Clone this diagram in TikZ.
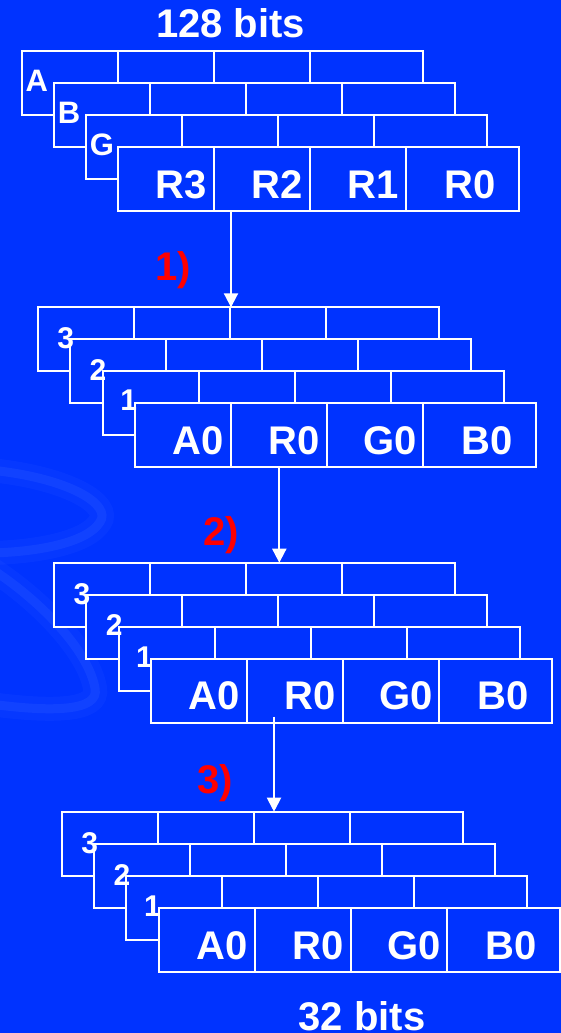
\documentclass[tikz,border=0pt]{standalone}
\usepackage{fontspec}
\setmainfont{Liberation Sans}
\usetikzlibrary{arrows.meta}
\definecolor{bg}{RGB}{0,51,255}
\definecolor{swirlc}{RGB}{110,150,255}
\definecolor{redlbl}{RGB}{255,0,0}
\newcommand\drawlayer[3]{%
  \node[layerbox] (#1) at (#2,#3) {};
  \draw[divider] (#1.north west) ++(96,0) -- ++(0,64)
                 (#1.north west) ++(192,0) -- ++(0,64)
                 (#1.north west) ++(288,0) -- ++(0,64);
}
\newcommand\cells[5]{% front layer name, four texts
  \path (#1.north west) ++(63,37.5) node[big] (#1t1) {#2};
  \path (#1.north west) ++(159,37.5) node[big] (#1t2) {#3};
  \path (#1.north west) ++(255,37.5) node[big] (#1t3) {#4};
  \path (#1.north west) ++(352,37.5) node[big] (#1t4) {#5};
}
\begin{document}
\begin{tikzpicture}[x=1pt,y=-1pt,
  layerbox/.style={draw=white,fill=bg,line width=2pt,minimum width=401pt,minimum height=64pt,inner sep=0pt,outer sep=0pt,anchor=north west},
  divider/.style={draw=white,line width=2pt},
  big/.style={text=white,font=\bfseries\fontsize{40}{40}\selectfont,inner sep=0pt},
  small/.style={text=white,font=\bfseries\fontsize{30}{30}\selectfont,inner sep=0pt},
  letter/.style={text=white,font=\bfseries\fontsize{31}{31}\selectfont,inner sep=0pt},
  steplbl/.style={text=redlbl,font=\bfseries\fontsize{40}{40}\selectfont,inner sep=0pt,anchor=base},
  flow/.style={draw=white,line width=2pt,-{Triangle[length=14pt,width=14pt]}},
  swirlline/.style={draw=swirlc,line cap=round}
]
\useasboundingbox (0,0) rectangle (561,1033);
\fill[bg] (0,0) rectangle (561,1033);
% faint background swirl
\draw[swirlline,line width=24pt,opacity=0.06] (-10,470) .. controls (70,478) and (112,505) .. (100,522) .. controls (88,542) and (40,552) .. (-10,553);
\draw[swirlline,line width=9pt,opacity=0.11] (-10,470) .. controls (70,478) and (112,505) .. (100,522) .. controls (88,542) and (40,552) .. (-10,553);
\draw[swirlline,line width=24pt,opacity=0.06] (-10,568) .. controls (40,600) and (88,650) .. (95,688) .. controls (100,712) and (50,712) .. (-10,704);
\draw[swirlline,line width=9pt,opacity=0.11] (-10,568) .. controls (40,600) and (88,650) .. (95,688) .. controls (100,712) and (50,712) .. (-10,704);

% title
\node[big] (top) at (230.5,22.8) {128 bits};

% group 1
\drawlayer{g1a}{22}{50.7}
\drawlayer{g1b}{54.3}{82.7}
\drawlayer{g1g}{86.3}{114.7}
\drawlayer{g1f}{118.3}{147.3}
\cells{g1f}{R3}{R2}{R1}{R0}
\path (g1a.north west) ++(14.7,30.3) node[letter] (la) {A};
\path (g1b.north west) ++(14.7,30.3) node[letter] (lb) {B};
\path (g1g.north west) ++(15.7,30.6) node[letter] (lg) {G};

% group 2
\drawlayer{g2c}{37.7}{307.3}
\drawlayer{g2b}{70}{339.3}
\drawlayer{g2a}{102.7}{371.3}
\drawlayer{g2f}{135.4}{403.3}
\cells{g2f}{A0}{R0}{G0}{B0}
\path (g2c.north west) ++(28,30.5) node[small] (n23) {3};
\path (g2b.north west) ++(28,30.5) node[small] (n22) {2};
\path (g2a.north west) ++(26,29) node[small] (n21) {1};

% group 3
\drawlayer{g3c}{53.9}{562.7}
\drawlayer{g3b}{86.2}{594.7}
\drawlayer{g3a}{118.5}{626.7}
\drawlayer{g3f}{150.8}{658.7}
\cells{g3f}{A0}{R0}{G0}{B0}
\path (g3c.north west) ++(28,31) node[small] (n33) {3};
\path (g3b.north west) ++(28,30.5) node[small] (n32) {2};
\path (g3a.north west) ++(26,30.5) node[small] (n31) {1};

% group 4
\drawlayer{g4c}{61.8}{811.7}
\drawlayer{g4b}{94}{843.7}
\drawlayer{g4a}{126.4}{875.7}
\drawlayer{g4f}{158.7}{908}
\cells{g4f}{A0}{R0}{G0}{B0}
\path (g4c.north west) ++(28,31) node[small] (n43) {3};
\path (g4b.north west) ++(28,31) node[small] (n42) {2};
\path (g4a.north west) ++(26,30.5) node[small] (n41) {1};

\node[big] (bot) at (362,1016) {32 bits};

% arrows
\coordinate (a1) at (231,0);
\coordinate (a2) at (279.3,0);
\coordinate (a3s) at (274,716.7);
\draw[flow] (a1 |- g1f.south) -- (a1 |- g2c.north);
\draw[flow] (a2 |- g2f.south) -- (a2 |- g3c.north);
\draw[flow] (a3s) -- (a3s |- g4c.north);

% step labels
\node[steplbl] (s1) at (173,280) {1)};
\node[steplbl] (s2) at (221,545) {2)};
\node[steplbl] (s3) at (215,793) {3)};
\end{tikzpicture}
\end{document}
